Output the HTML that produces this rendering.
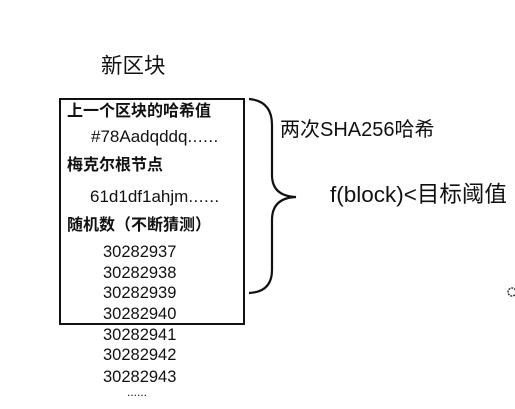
<!DOCTYPE html>
<html><head><meta charset="utf-8"><style>
body{margin:0;width:515px;height:409px;background:#fff;position:relative;overflow:hidden;font-family:"Liberation Sans","Noto Sans CJK SC",sans-serif;color:#111}
.t{position:absolute;white-space:nowrap;line-height:1}
.b{font-weight:bold;font-size:16px}
.n{font-size:16.5px;left:103px}
</style></head><body>
<div class="t" style="left:101px;top:56px;font-size:21.5px">新区块</div>
<div style="position:absolute;left:59px;top:98px;width:182px;height:223px;border:2px solid #111"></div>
<div class="t b" style="left:67px;top:104px">上一个区块的哈希值</div>
<div class="t" style="left:91px;top:128px;font-size:17px">#78Aadqddq<span style="letter-spacing:0.5px">......</span></div>
<div class="t b" style="left:67px;top:158px">梅克尔根节点</div>
<div class="t" style="left:90px;top:188px;font-size:17px">61d1df1ahjm<span style="letter-spacing:0.5px">......</span></div>
<div class="t b" style="left:67px;top:218px">随机数（不断猜测）</div>
<div class="t n" style="top:244px">30282937</div>
<div class="t n" style="top:265px">30282938</div>
<div class="t n" style="top:285px">30282939</div>
<div class="t n" style="top:306px">30282940</div>
<div class="t n" style="top:327px">30282941</div>
<div class="t n" style="top:347px">30282942</div>
<div class="t n" style="top:369px">30282943</div>
<div class="t" style="left:127px;top:386px;font-size:12px">......</div>
<svg style="position:absolute;left:0;top:0" width="515" height="409">
<path d="M249 99 Q272 101 272 125 L272 175 Q272 196 296 197 Q272 198 272 220 L272 270 Q272 292 249 293" fill="none" stroke="#111" stroke-width="2.2"/>
<circle cx="512" cy="292" r="4" fill="none" stroke="#333" stroke-width="1.5" stroke-dasharray="2 1"/>
</svg>
<div class="t" style="left:280px;top:120px;font-size:20px">两次SHA256哈希</div>
<div class="t" style="left:330px;top:184px;font-size:22.5px">f(block)&lt;目标阈值</div>
</body></html>
